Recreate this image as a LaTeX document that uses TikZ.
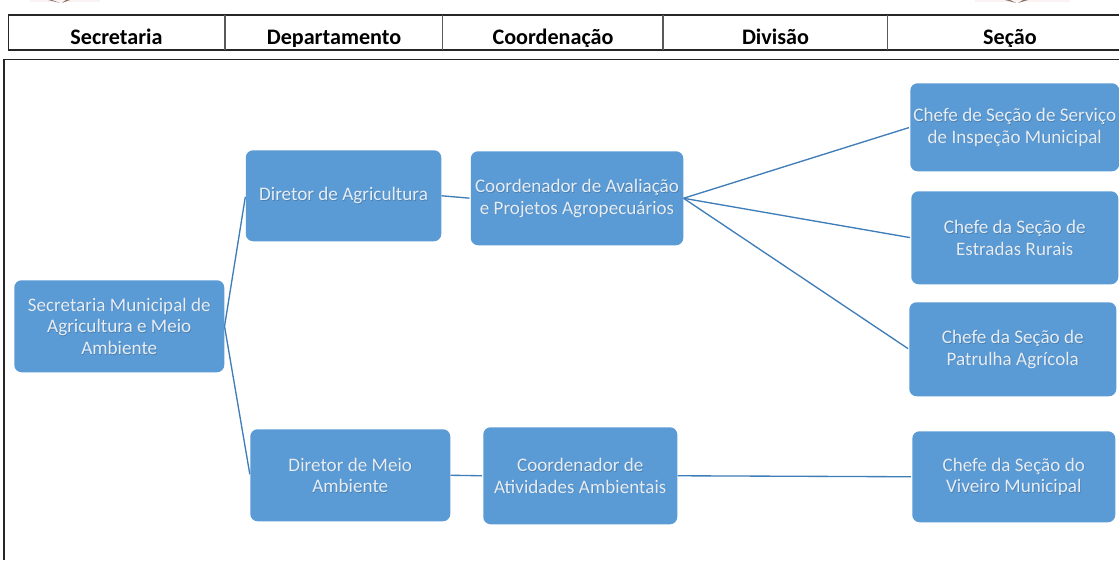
\documentclass[tikz,border=0pt]{standalone}
\usepackage{fontspec}
\setmainfont{Carlito}
\usetikzlibrary{calc}
\definecolor{boxblue}{HTML}{5B9BD5}
\definecolor{linkblue}{HTML}{3F7DB8}
\definecolor{boxtext}{HTML}{E6EDF5}
\definecolor{textshade}{HTML}{4A7FB0}
\definecolor{logotint}{HTML}{FBF3F3}
\definecolor{logomark}{HTML}{8A7468}
\newcommand{\boxlabel}[2]{%
  \node[boxlabelshade] at ([xshift=.5pt,yshift=-.5pt]#1) {#2};
  \node[boxlabeltext] at (#1) {#2};}
\tikzset{
  x=0.75pt,y=-0.75pt,
  orgbox/.style={fill=boxblue,draw=none,rounded corners=5.5pt,inner sep=0pt,anchor=north west},
  boxlabeltext/.style={text=boxtext,align=center,font=\fontsize{14.35pt}{16.2pt}\selectfont},
  boxlabelshade/.style={text=textshade,align=center,font=\fontsize{14.35pt}{16.2pt}\selectfont},
  headcell/.style={font=\bfseries\fontsize{16.6pt}{18pt}\selectfont,text=black,anchor=base},
  link/.style={draw=linkblue,line width=1pt,shorten >=0.8pt},
  rule/.style={draw=black!85,line width=0.8pt},
  softrule/.style={draw=black!65,line width=1pt}
}
\newcommand{\orgnode}[6]{% name, x0, y0, x1, y1, text
  \path let \n1={(#4-#2)*0.75pt}, \n2={(#5-#3)*0.75pt} in
    node[orgbox,minimum width=\n1,minimum height=\n2] (#1) at (#2,#3) {};
  \boxlabel{#1.center}{#6}}
\begin{document}
\begin{tikzpicture}
\useasboundingbox (0,0) rectangle (1119,560);
\fill[white] (0,0) rectangle (1119,560);
% cut-off logos
\fill[logotint] (30,0) rectangle (100,2.5);
\fill[logomark] (48,0) -- (60,3) -- (52,0) -- cycle;
\fill[logomark] (70,0) -- (62,3) -- (66,0) -- cycle;
\fill[logotint] (975,0) rectangle (1070,2.5);
\fill[logomark] (1005,0) -- (1016,3) -- (1010,0) -- cycle;
\fill[logomark] (1028,0) -- (1018,3) -- (1023,0) -- cycle;
% header
\begin{scope}
\clip (0,15) rectangle (1119,46.5);
\node[headcell] (h1) at (116.5,44.5) {Secretaria};
\node[headcell] (h2) at (334,44.5) {Departamento};
\node[headcell] (h3) at (553,44.5) {Coordenação};
\node[headcell] (h4) at (775.5,44.5) {Divisão};
\node[headcell] (h5) at (1010,44.5) {Seção};
\end{scope}
\draw[rule] (1119,15) -- (8.5,15) -- (8.5,50) -- (1119,50);
\foreach \xx in {225,442.5,663,887.5}{\draw[softrule] (\xx,15) -- (\xx,50);}
% frame
\draw[rule] (4,560) -- (4,59.5) -- (1119,59.5);
% boxes
\orgnode{sec}{14}{280}{224}{372}{Secretaria Municipal de\\Agricultura e Meio\\Ambiente}
\orgnode{dira}{245.5}{150}{441}{241}{Diretor de Agricultura}
\orgnode{dirm}{250}{429}{450}{521}{Diretor de Meio\\Ambiente}
\orgnode{coa}{470.5}{151}{683}{245}{Coordenador de Avaliação\\e Projetos Agropecuários}
\orgnode{com}{483}{427}{677}{524}{Coordenador de\\Atividades Ambientais}
\orgnode{c1}{910}{83}{1119}{171}{Chefe de Seção de Serviço\\de Inspeção Municipal}
\orgnode{c2}{911}{191}{1118}{284}{Chefe da Seção de\\Estradas Rurais}
\orgnode{c3}{909}{302}{1116}{396}{Chefe da Seção de\\Patrulha Agrícola}
\orgnode{c4}{912}{431}{1115}{522}{Chefe da Seção do\\Viveiro Municipal}
% links
\draw[link] (sec.east) -- (dira.west);
\draw[link] (sec.east) -- (dirm.west);
\draw[link] (dira.east) -- (coa.west);
\draw[link] (dirm.east) -- (com.west);
\draw[link] (coa.east) -- (c1.west);
\draw[link] (coa.east) -- (c2.west);
\draw[link] (coa.east) -- (c3.west);
\draw[link] (com.east) -- (c4.west);
\end{tikzpicture}
\end{document}
